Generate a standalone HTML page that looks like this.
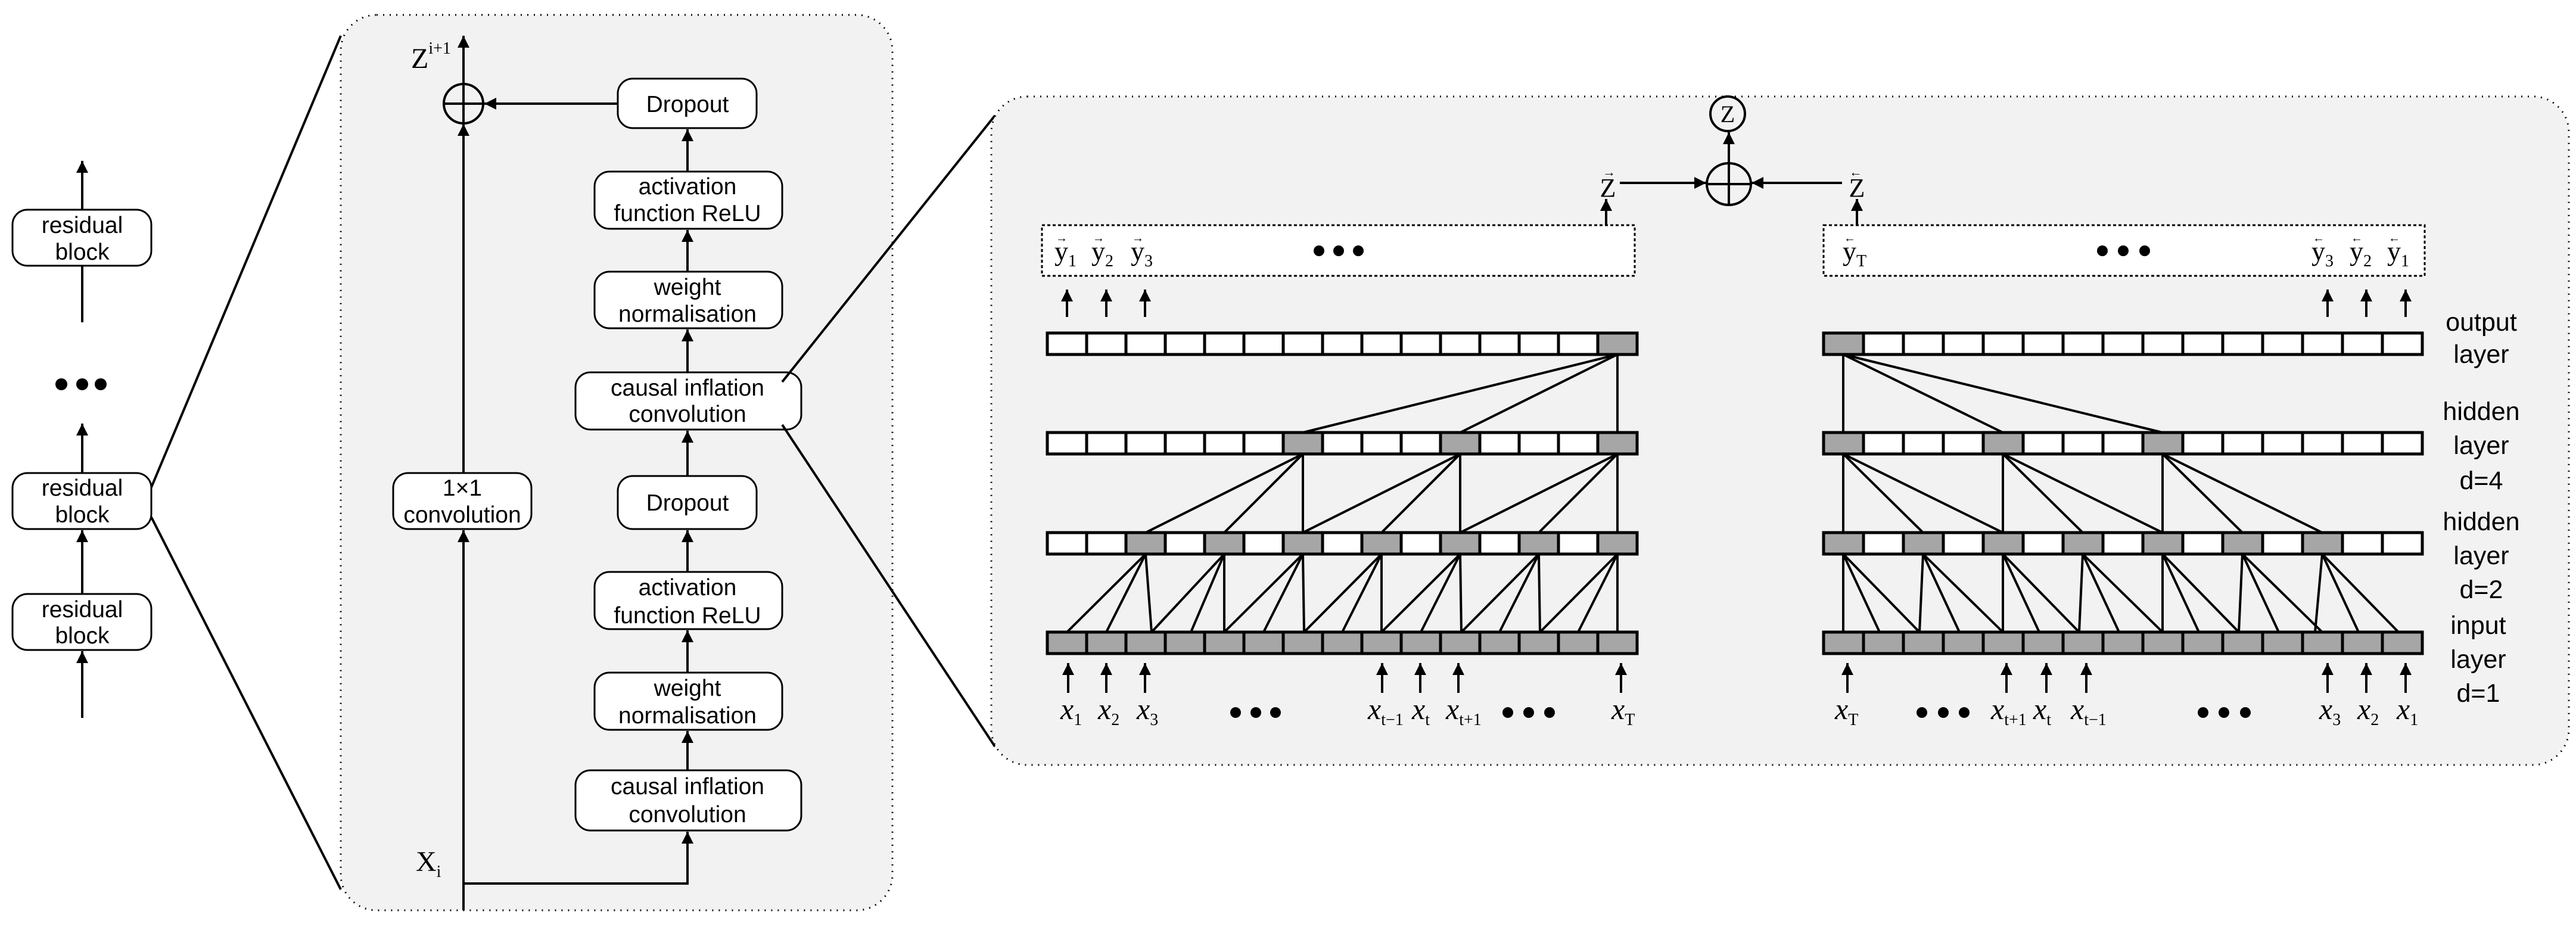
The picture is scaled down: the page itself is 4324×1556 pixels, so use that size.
<!DOCTYPE html>
<html><head><meta charset="utf-8"><style>
html,body{margin:0;padding:0;background:#fff;}
svg{display:block;}
.s{font-family:"Liberation Sans",sans-serif;font-size:39px;fill:#000;text-anchor:middle;}
.l{font-family:"Liberation Sans",sans-serif;font-size:43px;fill:#000;text-anchor:middle;}
.m{font-family:"Liberation Serif",serif;fill:#000;}
.xi{font-family:"Liberation Serif",serif;font-style:italic;font-size:50px;fill:#000;}
.sub{font-family:"Liberation Serif",serif;font-style:normal;font-size:28px;}
</style></head><body>
<svg width="4324" height="1556" viewBox="0 0 4324 1556" xmlns="http://www.w3.org/2000/svg">
<defs>
<marker id="a" viewBox="0 0 10 10" refX="10" refY="5" markerWidth="5" markerHeight="5" orient="auto" markerUnits="strokeWidth"><path d="M0,0 L10,5 L0,10 z" fill="#000"/></marker>
<pattern id="pL" x="1758" y="0" width="66" height="2000" patternUnits="userSpaceOnUse"><rect x="-2.5" y="0" width="5" height="2000" fill="#000"/><rect x="63.5" y="0" width="5" height="2000" fill="#000"/></pattern>
<pattern id="pR" x="3061" y="0" width="67" height="2000" patternUnits="userSpaceOnUse"><rect x="-2.5" y="0" width="5" height="2000" fill="#000"/><rect x="64.5" y="0" width="5" height="2000" fill="#000"/></pattern>
</defs>

<!-- left column -->
<g stroke="#000" stroke-width="4" fill="none">
<line x1="138" y1="541" x2="138" y2="270" marker-end="url(#a)"/>
<line x1="138" y1="794" x2="138" y2="711" marker-end="url(#a)"/>
<line x1="138" y1="997" x2="138" y2="890" marker-end="url(#a)"/>
<line x1="138" y1="1205" x2="138" y2="1093" marker-end="url(#a)"/>
</g>
<g stroke="#000" stroke-width="3" fill="#fff">
<rect x="21" y="352" width="233" height="94" rx="25"/>
<rect x="21" y="794" width="233" height="94" rx="25"/>
<rect x="21" y="997" width="233" height="94" rx="25"/>
</g>
<text class="s" x="138" y="391">residual</text><text class="s" x="138" y="436">block</text>
<text class="s" x="138" y="832">residual</text><text class="s" x="138" y="877">block</text>
<text class="s" x="138" y="1036">residual</text><text class="s" x="138" y="1080">block</text>
<circle cx="103" cy="645" r="10"/><circle cx="138" cy="645" r="10"/><circle cx="169" cy="645" r="10"/>
<g stroke="#000" stroke-width="4">
<line x1="254" y1="818" x2="572" y2="60"/>
<line x1="254" y1="868" x2="572" y2="1493"/>
</g>

<!-- panel 1 -->
<rect x="572" y="25" width="926" height="1503" rx="60" fill="#f2f2f2" stroke="#000" stroke-width="3" stroke-dasharray="2,9"/>
<g stroke="#000" stroke-width="4" fill="none">
<line x1="778" y1="1528" x2="778" y2="890" marker-end="url(#a)"/>
<line x1="778" y1="794" x2="778" y2="208" marker-end="url(#a)"/>
<line x1="778" y1="141" x2="778" y2="60" marker-end="url(#a)"/>
<circle cx="778" cy="174" r="33"/>
<line x1="745" y1="174" x2="811" y2="174"/>
<line x1="778" y1="141" x2="778" y2="207"/>
<line x1="1037" y1="174" x2="813" y2="174" marker-end="url(#a)"/>
<polyline points="778,1483 1154,1483 1154,1396" marker-end="url(#a)"/>
<line x1="1154" y1="1293" x2="1154" y2="1227" marker-end="url(#a)"/>
<line x1="1154" y1="1129" x2="1154" y2="1058" marker-end="url(#a)"/>
<line x1="1154" y1="960" x2="1154" y2="890" marker-end="url(#a)"/>
<line x1="1154" y1="799" x2="1154" y2="723" marker-end="url(#a)"/>
<line x1="1154" y1="625" x2="1154" y2="553" marker-end="url(#a)"/>
<line x1="1154" y1="456" x2="1154" y2="386" marker-end="url(#a)"/>
<line x1="1154" y1="288" x2="1154" y2="217" marker-end="url(#a)"/>
</g>
<g stroke="#000" stroke-width="3" fill="#fff">
<rect x="1037" y="132" width="233" height="83" rx="25"/>
<rect x="998" y="288" width="315" height="96" rx="25"/>
<rect x="998" y="456" width="315" height="95" rx="25"/>
<rect x="966" y="625" width="379" height="96" rx="25"/>
<rect x="1037" y="799" width="233" height="89" rx="25"/>
<rect x="998" y="960" width="315" height="96" rx="25"/>
<rect x="998" y="1129" width="315" height="96" rx="25"/>
<rect x="966" y="1293" width="379" height="101" rx="25"/>
<rect x="660" y="794" width="232" height="94" rx="25"/>
</g>
<text class="s" x="1154" y="188">Dropout</text>
<text class="s" x="1154" y="326">activation</text><text class="s" x="1154" y="371">function ReLU</text>
<text class="s" x="1154" y="495">weight</text><text class="s" x="1154" y="540">normalisation</text>
<text class="s" x="1154" y="664">causal inflation</text><text class="s" x="1154" y="708">convolution</text>
<text class="s" x="1154" y="857">Dropout</text>
<text class="s" x="1154" y="999">activation</text><text class="s" x="1154" y="1046">function ReLU</text>
<text class="s" x="1154" y="1168">weight</text><text class="s" x="1154" y="1214">normalisation</text>
<text class="s" x="1154" y="1333">causal inflation</text><text class="s" x="1154" y="1380">convolution</text>
<text class="s" x="776" y="832">1×1</text><text class="s" x="776" y="877">convolution</text>
<text class="m" x="690" y="114" font-size="48">Z<tspan font-size="28" dy="-24">i+1</tspan></text>
<text class="m" x="698" y="1462" font-size="48">X<tspan font-size="28" dy="10">i</tspan></text>

<g stroke="#000" stroke-width="4">
<line x1="1313" y1="641" x2="1670" y2="194"/>
<line x1="1313" y1="713" x2="1670" y2="1253"/>
</g>

<!-- panel 2 -->
<rect x="1664" y="162" width="2648" height="1122" rx="60" fill="#f2f2f2" stroke="#000" stroke-width="3" stroke-dasharray="2,9"/>

<g stroke="#000" stroke-width="4" fill="none">
<line x1="2696" y1="378" x2="2696" y2="334" marker-end="url(#a)"/>
<line x1="3117" y1="378" x2="3117" y2="334" marker-end="url(#a)"/>
<line x1="2719" y1="307" x2="2864" y2="307" marker-end="url(#a)"/>
<line x1="3092" y1="307" x2="2940" y2="307" marker-end="url(#a)"/>
<ellipse cx="2902" cy="309" rx="37" ry="35"/>
<line x1="2865" y1="309" x2="2939" y2="309"/>
<line x1="2902" y1="274" x2="2902" y2="344"/>
<line x1="2902" y1="274" x2="2902" y2="222" marker-end="url(#a)"/>
<circle cx="2900" cy="191" r="29"/>
</g>
<text class="m" x="2900" y="205" font-size="40" text-anchor="middle">Z</text>
<text class="m" x="2699" y="330" font-size="44" text-anchor="middle">Z</text>
<text class="m" x="2701" y="296" font-size="22" text-anchor="middle">→</text>
<text class="m" x="3117" y="330" font-size="44" text-anchor="middle">Z</text>
<text class="m" x="3115" y="296" font-size="22" text-anchor="middle">←</text>

<rect x="1749" y="378" width="995" height="85" fill="#fff" stroke="#000" stroke-width="3" stroke-dasharray="5,4"/>
<rect x="3061" y="378" width="1009" height="85" fill="#fff" stroke="#000" stroke-width="3" stroke-dasharray="5,4"/>
<g class="m" font-size="46">
<text x="1770" y="437">y<tspan font-size="28" dy="10">1</tspan></text>
<text x="1832" y="437">y<tspan font-size="28" dy="10">2</tspan></text>
<text x="1898" y="437">y<tspan font-size="28" dy="10">3</tspan></text>
<text x="3093" y="437">y<tspan font-size="28" dy="10">T</tspan></text>
<text x="3880" y="437">y<tspan font-size="28" dy="10">3</tspan></text>
<text x="3944" y="437">y<tspan font-size="28" dy="10">2</tspan></text>
<text x="4007" y="437">y<tspan font-size="28" dy="10">1</tspan></text>
</g>
<g class="m" font-size="20">
<text x="1772" y="406">→</text><text x="1834" y="406">→</text><text x="1900" y="406">→</text>
<text x="3095" y="406">←</text><text x="3882" y="406">←</text><text x="3946" y="406">←</text><text x="4009" y="406">←</text>
</g>
<g fill="#000">
<circle cx="2214" cy="421" r="9"/><circle cx="2247" cy="421" r="9"/><circle cx="2280" cy="421" r="9"/>
<circle cx="3529" cy="421" r="9"/><circle cx="3564" cy="421" r="9"/><circle cx="3600" cy="421" r="9"/>
<circle cx="2074" cy="1196" r="9"/><circle cx="2108" cy="1196" r="9"/><circle cx="2141" cy="1196" r="9"/>
<circle cx="2531" cy="1196" r="9"/><circle cx="2566" cy="1196" r="9"/><circle cx="2601" cy="1196" r="9"/>
<circle cx="3226" cy="1196" r="9"/><circle cx="3262" cy="1196" r="9"/><circle cx="3297" cy="1196" r="9"/>
<circle cx="3698" cy="1196" r="9"/><circle cx="3733" cy="1196" r="9"/><circle cx="3769" cy="1196" r="9"/>
</g>

<g stroke="#000" stroke-width="4">
<line x1="1791" y1="532" x2="1791" y2="486" marker-end="url(#a)"/>
<line x1="1857" y1="532" x2="1857" y2="486" marker-end="url(#a)"/>
<line x1="1922" y1="532" x2="1922" y2="486" marker-end="url(#a)"/>
<line x1="3907" y1="532" x2="3907" y2="486" marker-end="url(#a)"/>
<line x1="3972" y1="532" x2="3972" y2="486" marker-end="url(#a)"/>
<line x1="4038" y1="532" x2="4038" y2="486" marker-end="url(#a)"/>
<line x1="1793" y1="1163" x2="1793" y2="1113" marker-end="url(#a)"/>
<line x1="1857" y1="1163" x2="1857" y2="1113" marker-end="url(#a)"/>
<line x1="1922" y1="1163" x2="1922" y2="1113" marker-end="url(#a)"/>
<line x1="2320" y1="1163" x2="2320" y2="1113" marker-end="url(#a)"/>
<line x1="2384" y1="1163" x2="2384" y2="1113" marker-end="url(#a)"/>
<line x1="2448" y1="1163" x2="2448" y2="1113" marker-end="url(#a)"/>
<line x1="2721" y1="1163" x2="2721" y2="1113" marker-end="url(#a)"/>
<line x1="3101" y1="1163" x2="3101" y2="1113" marker-end="url(#a)"/>
<line x1="3368" y1="1163" x2="3368" y2="1113" marker-end="url(#a)"/>
<line x1="3435" y1="1163" x2="3435" y2="1113" marker-end="url(#a)"/>
<line x1="3502" y1="1163" x2="3502" y2="1113" marker-end="url(#a)"/>
<line x1="3907" y1="1163" x2="3907" y2="1113" marker-end="url(#a)"/>
<line x1="3972" y1="1163" x2="3972" y2="1113" marker-end="url(#a)"/>
<line x1="4038" y1="1163" x2="4038" y2="1113" marker-end="url(#a)"/>
</g>

<g class="xi">
<text x="1780" y="1207">x<tspan class="sub" dy="10">1</tspan></text>
<text x="1843" y="1207">x<tspan class="sub" dy="10">2</tspan></text>
<text x="1908" y="1207">x<tspan class="sub" dy="10">3</tspan></text>
<text x="2296" y="1207">x<tspan class="sub" dy="10">t−1</tspan></text>
<text x="2370" y="1207">x<tspan class="sub" dy="10">t</tspan></text>
<text x="2427" y="1207">x<tspan class="sub" dy="10">t+1</tspan></text>
<text x="2705" y="1207">x<tspan class="sub" dy="10">T</tspan></text>
<text x="3080" y="1207">x<tspan class="sub" dy="10">T</tspan></text>
<text x="3342" y="1207">x<tspan class="sub" dy="10">t+1</tspan></text>
<text x="3413" y="1207">x<tspan class="sub" dy="10">t</tspan></text>
<text x="3476" y="1207">x<tspan class="sub" dy="10">t−1</tspan></text>
<text x="3893" y="1207">x<tspan class="sub" dy="10">3</tspan></text>
<text x="3957" y="1207">x<tspan class="sub" dy="10">2</tspan></text>
<text x="4023" y="1207">x<tspan class="sub" dy="10">1</tspan></text>
</g>

<g stroke="#000" stroke-width="4">
<line x1="2715" y1="595" x2="2187" y2="726"/><line x1="2715" y1="595" x2="2451" y2="726"/><line x1="2715" y1="595" x2="2715" y2="726"/>
<line x1="2187" y1="762" x2="1923" y2="894"/><line x1="2187" y1="762" x2="2055" y2="894"/><line x1="2187" y1="762" x2="2187" y2="894"/>
<line x1="2451" y1="762" x2="2187" y2="894"/><line x1="2451" y1="762" x2="2319" y2="894"/><line x1="2451" y1="762" x2="2451" y2="894"/>
<line x1="2715" y1="762" x2="2451" y2="894"/><line x1="2715" y1="762" x2="2583" y2="894"/><line x1="2715" y1="762" x2="2715" y2="894"/>
<line x1="1923" y1="930" x2="1791" y2="1061"/><line x1="1923" y1="930" x2="1857" y2="1061"/><line x1="1923" y1="930" x2="1933" y2="1061"/>
<line x1="2055" y1="930" x2="1933" y2="1061"/><line x1="2055" y1="930" x2="1999" y2="1061"/><line x1="2055" y1="930" x2="2055" y2="1061"/>
<line x1="2187" y1="930" x2="2055" y2="1061"/><line x1="2187" y1="930" x2="2121" y2="1061"/><line x1="2187" y1="930" x2="2189" y2="1061"/>
<line x1="2319" y1="930" x2="2189" y2="1061"/><line x1="2319" y1="930" x2="2253" y2="1061"/><line x1="2319" y1="930" x2="2319" y2="1061"/>
<line x1="2451" y1="930" x2="2319" y2="1061"/><line x1="2451" y1="930" x2="2385" y2="1061"/><line x1="2451" y1="930" x2="2453" y2="1061"/>
<line x1="2583" y1="930" x2="2453" y2="1061"/><line x1="2583" y1="930" x2="2517" y2="1061"/><line x1="2583" y1="930" x2="2585" y2="1061"/>
<line x1="2715" y1="930" x2="2585" y2="1061"/><line x1="2715" y1="930" x2="2649" y2="1061"/><line x1="2715" y1="930" x2="2715" y2="1061"/>

<line x1="3094" y1="595" x2="3094" y2="726"/><line x1="3094" y1="595" x2="3362" y2="726"/><line x1="3094" y1="595" x2="3630" y2="726"/>
<line x1="3094" y1="762" x2="3094" y2="894"/><line x1="3094" y1="762" x2="3228" y2="894"/><line x1="3094" y1="762" x2="3362" y2="894"/>
<line x1="3362" y1="762" x2="3362" y2="894"/><line x1="3362" y1="762" x2="3496" y2="894"/><line x1="3362" y1="762" x2="3630" y2="894"/>
<line x1="3630" y1="762" x2="3630" y2="894"/><line x1="3630" y1="762" x2="3764" y2="894"/><line x1="3630" y1="762" x2="3898" y2="894"/>
<line x1="3094" y1="930" x2="3094" y2="1061"/><line x1="3094" y1="930" x2="3155" y2="1061"/><line x1="3094" y1="930" x2="3222" y2="1061"/>
<line x1="3228" y1="930" x2="3222" y2="1061"/><line x1="3228" y1="930" x2="3289" y2="1061"/><line x1="3228" y1="930" x2="3362" y2="1061"/>
<line x1="3362" y1="930" x2="3362" y2="1061"/><line x1="3362" y1="930" x2="3423" y2="1061"/><line x1="3362" y1="930" x2="3490" y2="1061"/>
<line x1="3496" y1="930" x2="3490" y2="1061"/><line x1="3496" y1="930" x2="3557" y2="1061"/><line x1="3496" y1="930" x2="3630" y2="1061"/>
<line x1="3630" y1="930" x2="3630" y2="1061"/><line x1="3630" y1="930" x2="3691" y2="1061"/><line x1="3630" y1="930" x2="3758" y2="1061"/>
<line x1="3764" y1="930" x2="3758" y2="1061"/><line x1="3764" y1="930" x2="3825" y2="1061"/><line x1="3764" y1="930" x2="3898" y2="1061"/>
<line x1="3898" y1="930" x2="3886" y2="1061"/><line x1="3898" y1="930" x2="3959" y2="1061"/><line x1="3898" y1="930" x2="4026" y2="1061"/>
</g>

<g>
<rect x="1758" y="559" width="990" height="36" fill="#fff"/>
<rect x="2682" y="559" width="66" height="36" fill="#a6a6a6"/>
<rect x="1758" y="726" width="990" height="36" fill="#fff"/>
<rect x="2154" y="726" width="66" height="36" fill="#a6a6a6"/><rect x="2418" y="726" width="66" height="36" fill="#a6a6a6"/><rect x="2682" y="726" width="66" height="36" fill="#a6a6a6"/>
<rect x="1758" y="894" width="990" height="36" fill="#fff"/>
<rect x="1890" y="894" width="66" height="36" fill="#a6a6a6"/><rect x="2022" y="894" width="66" height="36" fill="#a6a6a6"/><rect x="2154" y="894" width="66" height="36" fill="#a6a6a6"/><rect x="2286" y="894" width="66" height="36" fill="#a6a6a6"/><rect x="2418" y="894" width="66" height="36" fill="#a6a6a6"/><rect x="2550" y="894" width="66" height="36" fill="#a6a6a6"/><rect x="2682" y="894" width="66" height="36" fill="#a6a6a6"/>
<rect x="1758" y="1061" width="990" height="36" fill="#a6a6a6"/>
<rect x="1758" y="559" width="990" height="36" fill="url(#pL)"/>
<rect x="1758" y="726" width="990" height="36" fill="url(#pL)"/>
<rect x="1758" y="894" width="990" height="36" fill="url(#pL)"/>
<rect x="1758" y="1061" width="990" height="36" fill="url(#pL)"/>
<g fill="none" stroke="#000" stroke-width="5">
<rect x="1758" y="559" width="990" height="36"/><rect x="1758" y="726" width="990" height="36"/><rect x="1758" y="894" width="990" height="36"/><rect x="1758" y="1061" width="990" height="36"/>
</g>
</g>

<g>
<rect x="3061" y="559" width="1005" height="36" fill="#fff"/>
<rect x="3061" y="559" width="67" height="36" fill="#a6a6a6"/>
<rect x="3061" y="726" width="1005" height="36" fill="#fff"/>
<rect x="3061" y="726" width="67" height="36" fill="#a6a6a6"/><rect x="3329" y="726" width="67" height="36" fill="#a6a6a6"/><rect x="3597" y="726" width="67" height="36" fill="#a6a6a6"/>
<rect x="3061" y="894" width="1005" height="36" fill="#fff"/>
<rect x="3061" y="894" width="67" height="36" fill="#a6a6a6"/><rect x="3195" y="894" width="67" height="36" fill="#a6a6a6"/><rect x="3329" y="894" width="67" height="36" fill="#a6a6a6"/><rect x="3463" y="894" width="67" height="36" fill="#a6a6a6"/><rect x="3597" y="894" width="67" height="36" fill="#a6a6a6"/><rect x="3731" y="894" width="67" height="36" fill="#a6a6a6"/><rect x="3865" y="894" width="67" height="36" fill="#a6a6a6"/>
<rect x="3061" y="1061" width="1005" height="36" fill="#a6a6a6"/>
<rect x="3061" y="559" width="1005" height="36" fill="url(#pR)"/>
<rect x="3061" y="726" width="1005" height="36" fill="url(#pR)"/>
<rect x="3061" y="894" width="1005" height="36" fill="url(#pR)"/>
<rect x="3061" y="1061" width="1005" height="36" fill="url(#pR)"/>
<g fill="none" stroke="#000" stroke-width="5">
<rect x="3061" y="559" width="1005" height="36"/><rect x="3061" y="726" width="1005" height="36"/><rect x="3061" y="894" width="1005" height="36"/><rect x="3061" y="1061" width="1005" height="36"/>
</g>
</g>

<text class="l" x="4165" y="555">output</text><text class="l" x="4165" y="609">layer</text>
<text class="l" x="4165" y="705">hidden</text><text class="l" x="4165" y="762">layer</text><text class="l" x="4165" y="821">d=4</text>
<text class="l" x="4165" y="890">hidden</text><text class="l" x="4165" y="947">layer</text><text class="l" x="4165" y="1004">d=2</text>
<text class="l" x="4160" y="1064">input</text><text class="l" x="4160" y="1121">layer</text><text class="l" x="4160" y="1178">d=1</text>
</svg>
</body></html>
